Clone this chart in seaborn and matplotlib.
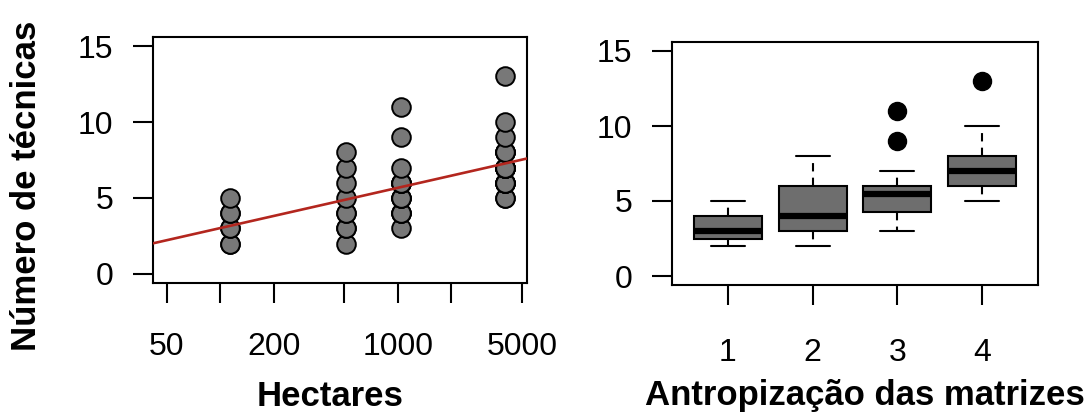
import numpy as np
import pandas as pd
import matplotlib
matplotlib.use("Agg")
import matplotlib.pyplot as plt
import seaborn as sns

# ---- data ----
hectares = [113, 513, 1045, 4010]          # area of each matrix (x of each column of points)
grupos = ["1", "2", "3", "4"]              # antropização class of each matrix
tecnicas_g1 = [2, 2, 3, 3, 4, 4, 5]
tecnicas_g2 = [2, 3, 3, 4, 4, 5, 6, 7, 8]
tecnicas_g3 = [3, 4, 4, 4, 5, 5, 5, 6, 6, 6, 6, 7, 9, 11]
tecnicas_g4 = [5, 5, 6, 6, 6, 6, 6, 7, 7, 7, 7, 7, 7, 7, 8, 8, 8, 8, 9, 10, 13]
x_ticks = [50, 100, 200, 500, 1000, 2000, 5000]
x_tick_labels = ["50", "", "200", "", "1000", "", "5000"]
y_ticks = [0, 5, 10, 15]

sns.set_style("white")
plt.rcParams["font.family"] = ["Liberation Sans", "DejaVu Sans"]
plt.rcParams["text.color"] = "black"

groups = [tecnicas_g1, tecnicas_g2, tecnicas_g3, tecnicas_g4]
sizes = [len(g) for g in groups]
df = pd.DataFrame({
    "hectares": np.repeat(hectares, sizes),
    "grupo": np.repeat(grupos, sizes),
    "tecnicas": np.concatenate(groups),
})

W, H = 1092, 416
fig = plt.figure(figsize=(W / 100, H / 100), dpi=100)
ax1 = fig.add_axes([153 / W, 1 - 283 / H, 374 / W, 246 / H])
ax2 = fig.add_axes([672 / W, 1 - 285 / H, 366 / W, 243 / H])

# ---- left: scatter + log regression ----
ax1.set_xscale("log")
ax1.set_xlim(41.7, 5335)
ax1.set_ylim(-0.6, 15.6)
sns.scatterplot(data=df, x="hectares", y="tecnicas", ax=ax1, s=180,
                color="#787878", edgecolor="black", linewidth=1.4, zorder=3)
sns.regplot(data=df, x="hectares", y="tecnicas", ax=ax1, scatter=False,
            logx=True, ci=None, truncate=False,
            line_kws=dict(color="#b3261e", lw=1.9, zorder=4))
ax1.set_xlim(41.7, 5335)
ax1.set_xticks(x_ticks)
ax1.set_xticklabels(x_tick_labels)
ax1.minorticks_off()

# ---- right: boxplot ----
sns.boxplot(data=df, x="grupo", y="tecnicas", order=grupos, ax=ax2,
            color="#6e6e6e", saturation=1, width=0.8, linecolor="black",
            linewidth=1.5, whis=1.5, fliersize=13,
            whiskerprops=dict(linestyle=(0, (4, 3))),
            medianprops=dict(linewidth=4.5, color="black"),
            flierprops=dict(marker="o", markerfacecolor="black",
                            markeredgecolor="black"),
            capwidths=0.4)
ax2.set_xlim(-0.66, 3.66)
ax2.set_ylim(-0.6, 15.6)

for ax in (ax1, ax2):
    ax.set_yticks(y_ticks)
    ax.set_xlabel("")
    ax.set_ylabel("")
    for sp in ax.spines.values():
        sp.set_visible(True)
        sp.set_color("black")
        sp.set_linewidth(1.5)
    ax.tick_params(axis="both", which="major", direction="out", length=14.5,
                   width=1.5, color="black", labelsize=23, labelcolor="black",
                   bottom=True, left=True)
    ax.tick_params(axis="y", pad=14)
ax1.tick_params(axis="x", pad=21)
ax2.tick_params(axis="x", pad=24)

fig.text(27 / W, 1 - 186 / H, "Número de técnicas", rotation=90, ha="center",
         va="center", fontsize=25, fontweight="bold", color="black")
fig.text(330 / W, 1 - 397 / H, "Hectares", ha="center", va="center",
         fontsize=25, fontweight="bold", color="black")
fig.text(865 / W, 1 - 396 / H, "Antropização das matrizes", ha="center",
         va="center", fontsize=25, fontweight="bold", color="black")

fig.savefig("out.png", dpi=100, facecolor="white")
